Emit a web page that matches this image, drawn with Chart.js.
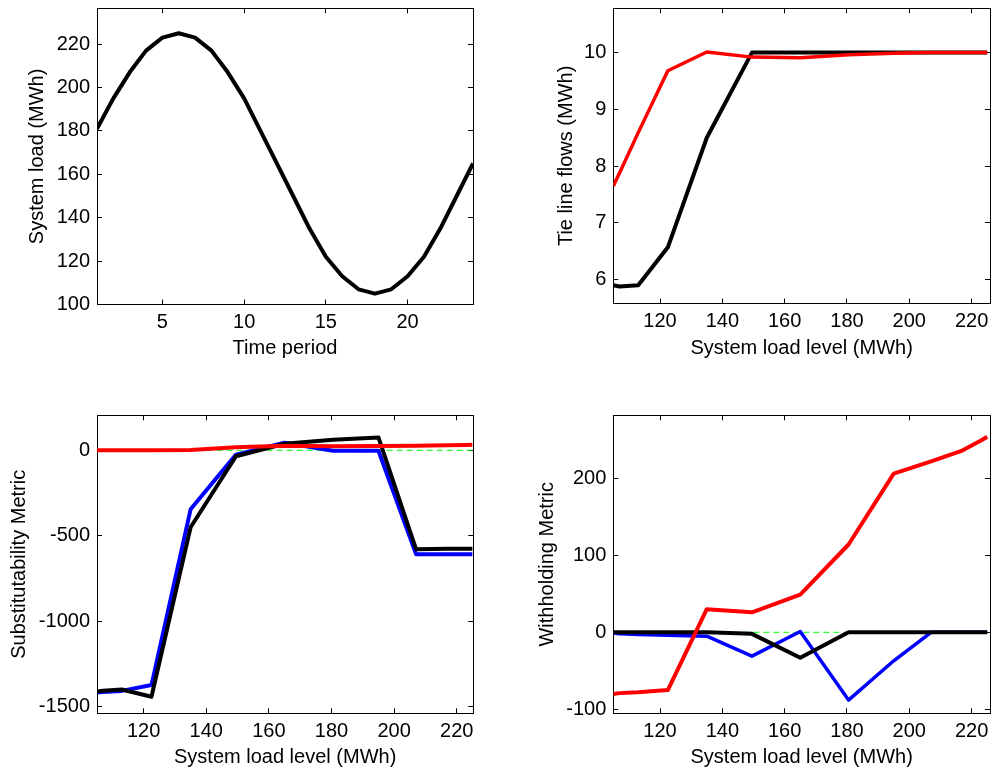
<!DOCTYPE html>
<html>
<head>
<meta charset="utf-8">
<title>System load, tie line flows and market metrics</title>
<script src="https://cdn.jsdelivr.net/npm/chart.js@4.4.1/dist/chart.umd.min.js"></script>
<style>
    body { margin: 0; background: #fff; }
    #page { position: relative; width: 992px; height: 772px; background: #fff; }
    #page canvas { position: absolute; }
</style>
</head>
<body>
<div id="page">
    <canvas id="chart-load" width="496" height="386" style="left:0;top:0"></canvas>
    <canvas id="chart-tie" width="496" height="386" style="left:496px;top:0"></canvas>
    <canvas id="chart-subst" width="496" height="386" style="left:0;top:386px"></canvas>
    <canvas id="chart-withhold" width="496" height="386" style="left:496px;top:386px"></canvas>
</div>
<script>
// top left: load per time period
const timePeriods = [1, 2, 3, 4, 5, 6, 7, 8, 9, 10, 11, 12, 13, 14, 15, 16, 17, 18, 19, 20, 21, 22, 23, 24];
const systemLoad = [181, 195, 207, 217, 223, 225, 223, 217, 207, 195, 180, 165,
    150, 135, 122, 113, 107, 105, 107, 113, 122, 135, 150, 165];

// load levels used on the x axis of the other three plots
const loadLevels = [105, 107, 113, 122.5, 135, 149.5, 165, 180.5, 195, 207, 217, 223, 225];

// top right: tie line flows
const tieFlowsRed = [7.65, 7.88, 8.59, 9.68, 10.01, 9.92, 9.91, 9.96, 9.99, 10.0, 10.0, 10.0, 10.0];
const tieFlowsBlack = [5.9, 5.88, 5.9, 6.57, 8.5, 10.0, 10.0, 10.0, 10.0, 10.0, 10.0, 10.0, 10.0];

// bottom left: substitutability metric
const substRed = [0, 0, 0, 0, 2, 18, 27, 24, 25, 27, 29, 31, 32];
const substBlack = [-1410, -1405, -1398, -1440, -450, -35, 38, 62, 75, -578, -576, -575, -575];
const substBlue = [-1415, -1412, -1406, -1372, -345, -25, 44, -3, -3, -607, -608, -608, -608];

// bottom right: withholding metric
const withRed = [-80, -79, -78, -75, 30, 26, 49, 114, 206, 222, 236, 249, 254];
const withBlack = [0, 0, 0, 0, 0, -2, -33, 0, 0, 0, 0, 0, 0];
const withBlue = [-1, -2, -3, -4, -5, -31, 1, -88, -37, 0, 0, 0, 0];

const zeroRef = [0, 0, 0, 0, 0, 0, 0, 0, 0, 0, 0, 0, 0];

// tick labels
const timeTicks = [5, 10, 15, 20];
const loadTicks = [100, 120, 140, 160, 180, 200, 220];
const loadLevelTicks = [120, 140, 160, 180, 200, 220];
const tieTicks = [6, 7, 8, 9, 10];
const substTicks = [-1500, -1000, -500, 0];
const withTicks = [-100, 0, 100, 200];

const FONT = { family: '"Liberation Sans", Arial, Helvetica, sans-serif', size: 20, lineHeight: 1.2 };
const TICK_LEN = -5;

function points(xs, ys) {
    return xs.map((x, i) => ({ x, y: ys[i] }));
}

function fixedTicks(values) {
    return (scale) => {
        scale.ticks = values.map((value) => ({ value }));
    };
}

// pin an axis to a fixed size and drop the label overflow padding chart.js adds
function fixSize(prop, size) {
    return (scale) => {
        scale[prop] = size;
        scale.paddingTop = 0;
        scale.paddingBottom = 0;
        scale.paddingLeft = 0;
        scale.paddingRight = 0;
    };
}

function line(xs, ys, color, width) {
    return {
        data: points(xs, ys),
        borderColor: color,
        borderWidth: width,
        pointRadius: 0,
        tension: 0,
        fill: false,
        borderJoinStyle: 'round',
    };
}

function zeroLine(xs) {
    return {
        data: points(xs, zeroRef),
        borderColor: '#00ff00',
        borderWidth: 1,
        borderDash: [6, 4],
        pointRadius: 0,
        tension: 0,
        fill: false,
    };
}

function makeChart(id, spec, datasets) {
    const grid = { drawOnChartArea: false, drawTicks: true, tickLength: TICK_LEN, color: '#000', lineWidth: 1 };
    const border = { display: true, color: '#000', width: 1 };
    const tickFont = { font: FONT, color: '#000', autoSkip: false, maxRotation: 0, callback: (v) => String(v) };

    return new Chart(document.getElementById(id), {
        type: 'line',
        data: { datasets },
        options: {
            responsive: false,
            animation: false,
            events: [],
            layout: { padding: { left: 0, top: spec.padTop, right: spec.padRight, bottom: 0 } },
            plugins: { legend: { display: false }, tooltip: { enabled: false } },
            scales: {
                x: {
                    type: 'linear', position: 'bottom', min: spec.xMin, max: spec.xMax,
                    afterBuildTicks: fixedTicks(spec.xTicks),
                    afterFit: fixSize('height', spec.xHeight),
                    grid, border,
                    ticks: { ...tickFont, padding: 11 },
                    title: { display: true, text: spec.xTitle, font: FONT, color: '#000', padding: { top: 0, bottom: spec.xTitlePad } },
                },
                xTop: {
                    type: 'linear', position: 'top', min: spec.xMin, max: spec.xMax,
                    afterBuildTicks: fixedTicks(spec.xTicks),
                    afterFit: fixSize('height', 0),
                    grid, border,
                    ticks: { display: false },
                },
                y: {
                    type: 'linear', position: 'left', min: spec.yMin, max: spec.yMax,
                    afterBuildTicks: fixedTicks(spec.yTicks),
                    afterFit: fixSize('width', spec.yWidth),
                    grid, border,
                    ticks: { ...tickFont, padding: 12 },
                    title: { display: true, text: spec.yTitle, font: FONT, color: '#000', padding: { top: spec.yTitlePad, bottom: 0 } },
                },
                yRight: {
                    type: 'linear', position: 'right', min: spec.yMin, max: spec.yMax,
                    afterBuildTicks: fixedTicks(spec.yTicks),
                    afterFit: fixSize('width', 0),
                    grid, border,
                    ticks: { display: false },
                },
            },
        },
    });
}

makeChart('chart-load', {
    xMin: 1, xMax: 24, xTicks: timeTicks, xTitle: 'Time period',
    yMin: 100, yMax: 236.5, yTicks: loadTicks, yTitle: 'System load (MWh)',
    padTop: 8.3, padRight: 23, yWidth: 97, xHeight: 81.5, xTitlePad: 25.7, yTitlePad: 25.5,
}, [line(timePeriods, systemLoad, '#000000', 4)]);

makeChart('chart-tie', {
    xMin: 105, xMax: 225.9, xTicks: loadLevelTicks, xTitle: 'System load level (MWh)',
    yMin: 5.58, yMax: 10.78, yTicks: tieTicks, yTitle: 'Tie line flows (MWh)',
    padTop: 8.3, padRight: 2, yWidth: 117.3, xHeight: 82.5, xTitlePad: 25.7, yTitlePad: 58,
}, [
    line(loadLevels, tieFlowsRed, '#ff0000', 3.5),
    line(loadLevels, tieFlowsBlack, '#000000', 4),
]);

makeChart('chart-subst', {
    xMin: 105.1, xMax: 225.3, xTicks: loadLevelTicks, xTitle: 'System load level (MWh)',
    yMin: -1537, yMax: 204.5, yTicks: substTicks, yTitle: 'Substitutability Metric',
    padTop: 29.3, padRight: 22.7, yWidth: 97, xHeight: 58.7, xTitlePad: 2.3, yTitlePad: 7,
}, [
    line(loadLevels, substRed, '#ff0000', 4),
    line(loadLevels, substBlack, '#000000', 4),
    line(loadLevels, substBlue, '#0000ff', 4),
    zeroLine(loadLevels),
]);

makeChart('chart-withhold', {
    xMin: 105, xMax: 225.9, xTicks: loadLevelTicks, xTitle: 'System load level (MWh)',
    yMin: -105.2, yMax: 281.8, yTicks: withTicks, yTitle: 'Withholding Metric',
    padTop: 29.3, padRight: 2, yWidth: 117.3, xHeight: 58.7, xTitlePad: 2.3, yTitlePad: 39.7,
}, [
    line(loadLevels, withRed, '#ff0000', 4),
    line(loadLevels, withBlack, '#000000', 4),
    line(loadLevels, withBlue, '#0000ff', 3.5),
    zeroLine(loadLevels),
]);
</script>
</body>
</html>
